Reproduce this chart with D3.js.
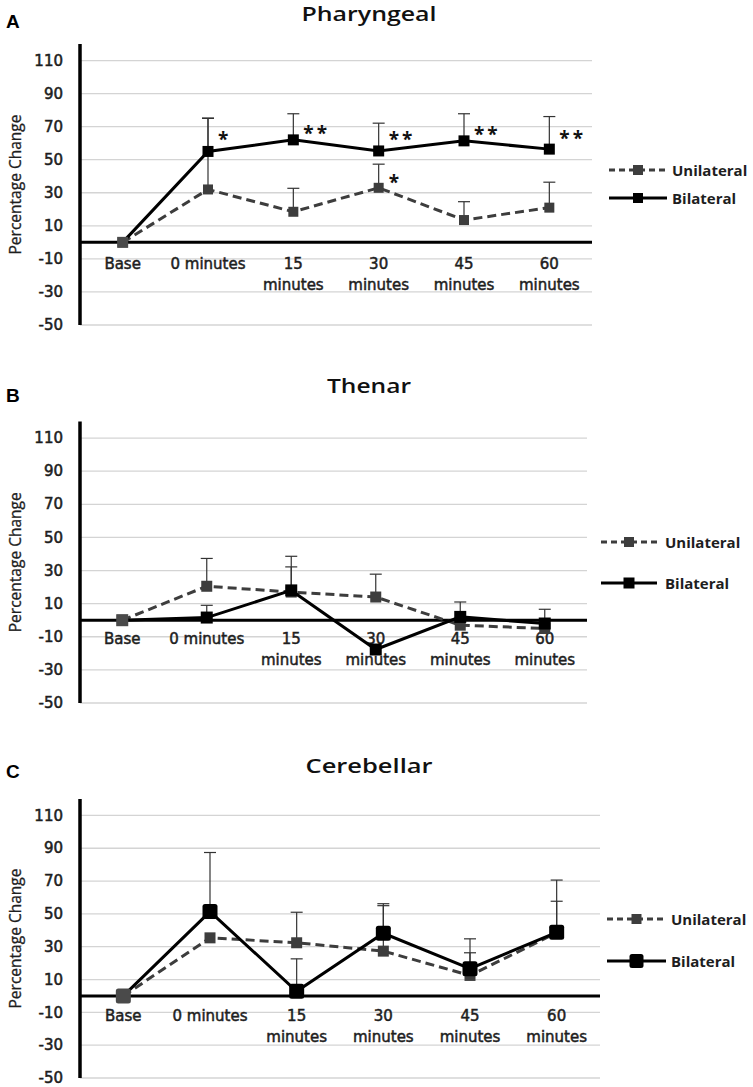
<!DOCTYPE html>
<html>
<head>
<meta charset="utf-8">
<script src="https://cdn.jsdelivr.net/npm/d3@7"></script>
<style>
  html, body { margin: 0; padding: 0; background: #fff; }
  svg { display: block; }
</style>
</head>
<body>
<svg id="chart" width="753" height="1087"></svg>
<script>
// ---------------- DATA ----------------
const categories = ["Base", "0 minutes", "15 minutes", "30 minutes", "45 minutes", "60 minutes"];
const xLabelLines = [["Base"], ["0 minutes"], ["15", "minutes"], ["30", "minutes"], ["45", "minutes"], ["60", "minutes"]];
const yTicks = [-50, -30, -10, 10, 30, 50, 70, 90, 110];
const yDomain = [-50, 120];
const seriesNames = ["Unilateral", "Bilateral"];
const panelTitles = ["Pharyngeal", "Thenar", "Cerebellar"];
const panelLetters = ["A", "B", "C"];
const yAxisTitle = "Percentage Change";

// Pharyngeal
const pharyngealUnilateral    = [0, 32, 18.5, 33, 13.5, 21];
const pharyngealUnilateralErr = [0, 43, 14.2, 14.3, 11.1, 15.4];
const pharyngealBilateral     = [0, 55, 62, 55.3, 61.4, 56.4];
const pharyngealBilateralErr  = [0, 20.2, 15.8, 16.8, 16.4, 19.7];
const pharyngealStars = [
  { cat: 1, text: "*",  value: 64.4 },
  { cat: 2, text: "**", value: 68 },
  { cat: 3, text: "**", value: 64.4 },
  { cat: 3, text: "*",  value: 38.2 },
  { cat: 4, text: "**", value: 67.6 },
  { cat: 5, text: "**", value: 65 }
];

// Thenar
const thenarUnilateral    = [0, 20.5, 17, 14, -3, -5];
const thenarUnilateralErr = [0, 16.8, 21.6, 13.8, 0, 11.6];
const thenarBilateral     = [0, 1.6, 18, -17.7, 2, -2];
const thenarBilateralErr  = [0, 7.4, 14.2, 0, 9, 0];
const thenarStars = [];

// Cerebellar
const cerebellarUnilateral    = [0, 35.4, 32.4, 27.3, 12.5, 38.5];
const cerebellarUnilateralErr = [0, 0, 18.6, 27.7, 13.8, 19.2];
const cerebellarBilateral     = [0, 51.4, 2.8, 38.2, 16.6, 38.8];
const cerebellarBilateralErr  = [0, 36, 19.8, 18, 18.2, 31.8];
const cerebellarStars = [];

// ---------------- LAYOUT ----------------
const panels = [
  { title: panelTitles[0], letter: panelLetters[0], uni: pharyngealUnilateral, uniErr: pharyngealUnilateralErr,
    bi: pharyngealBilateral, biErr: pharyngealBilateralErr, stars: pharyngealStars,
    yTop: 44, yBot: 325, right: 592, titleY: 21, titleW: 135, letterY: 28, legendY: [170, 198],
    legendX: [609, 667, 672],
    uniSize: 10, biSize: 11, biRx: 0, labelOff: 27 },
  { title: panelTitles[1], letter: panelLetters[1], uni: thenarUnilateral, uniErr: thenarUnilateralErr,
    bi: thenarBilateral, biErr: thenarBilateralErr, stars: thenarStars,
    yTop: 421.5, yBot: 703, right: 587, titleY: 393, titleW: 84, letterY: 402, legendY: [542, 583],
    legendX: [601, 657, 665],
    uniSize: 11, biSize: 12, biRx: 0, labelOff: 24 },
  { title: panelTitles[2], letter: panelLetters[2], uni: cerebellarUnilateral, uniErr: cerebellarUnilateralErr,
    bi: cerebellarBilateral, biErr: cerebellarBilateralErr, stars: cerebellarStars,
    yTop: 799, yBot: 1078, right: 600, titleY: 773, titleW: 127, letterY: 778, legendY: [919, 961],
    legendX: [607, 666, 671],
    uniSize: 11, biSize: 15, biRx: 2.5, labelOff: 25.5 }
];

const axisX = 80;
const uniColor = "#3d3d3d";
const biColor = "#000000";
const textColor = "#1e1e1e";
const svg = d3.select("#chart");

panels.forEach(p => {
  const g = svg.append("g");
  const x = d3.scalePoint().domain(categories).range([axisX, p.right]).padding(0.5);
  const y = d3.scaleLinear().domain(yDomain).range([p.yBot, p.yTop]);

  // gridlines
  g.append("g").selectAll("line").data(yTicks).join("line")
    .attr("x1", axisX).attr("x2", p.right)
    .attr("y1", d => y(d)).attr("y2", d => y(d))
    .attr("stroke", "#d4d4d4").attr("stroke-width", 1.3);

  // y tick labels
  g.append("g").selectAll("text").data(yTicks).join("text")
    .attr("x", 63).attr("y", d => y(d) + 5.2)
    .attr("text-anchor", "end")
    .attr("font-family", "DejaVu Sans").attr("font-size", 15)
    .attr("fill", textColor).attr("stroke", textColor).attr("stroke-width", 0.55)
    .text(d => d);

  // x category labels
  const xl = g.append("g").selectAll("text").data(categories).join("text")
    .attr("text-anchor", "middle")
    .attr("font-family", "DejaVu Sans").attr("font-size", 15)
    .attr("fill", textColor).attr("stroke", textColor).attr("stroke-width", 0.5);
  xl.each(function(d, i) {
    const t = d3.select(this);
    xLabelLines[i].forEach((line, j) => {
      t.append("tspan").attr("x", x(d)).attr("y", y(0) + p.labelOff + j * 20.5).text(line);
    });
  });

  // zero line
  g.append("line").attr("x1", axisX).attr("x2", p.right)
    .attr("y1", y(0)).attr("y2", y(0))
    .attr("stroke", "#000").attr("stroke-width", 3);

  // y axis line
  g.append("line").attr("x1", axisX).attr("x2", axisX)
    .attr("y1", p.yTop).attr("y2", p.yBot)
    .attr("stroke", "#000").attr("stroke-width", 3.5);

  // y axis title
  g.append("text")
    .attr("transform", `translate(15,${y((yDomain[0] + yDomain[1]) / 2)}) rotate(-90)`)
    .attr("text-anchor", "middle").attr("dominant-baseline", "central")
    .attr("font-family", "Open Sans").attr("font-size", 15.5)
    .attr("textLength", 140).attr("lengthAdjust", "spacingAndGlyphs")
    .attr("fill", textColor).attr("stroke", textColor).attr("stroke-width", 0.3)
    .text(yAxisTitle);

  // panel title
  g.append("text").attr("x", 369).attr("y", p.titleY)
    .attr("text-anchor", "middle")
    .attr("font-family", "Open Sans").attr("font-weight", 600).attr("font-size", 20)
    .attr("textLength", p.titleW).attr("lengthAdjust", "spacingAndGlyphs")
    .attr("fill", "#111")
    .text(p.title);

  // panel letter
  g.append("text").attr("x", 6).attr("y", p.letterY)
    .attr("font-family", "Liberation Sans").attr("font-weight", 700).attr("font-size", 19)
    .attr("fill", "#000")
    .text(p.letter);

  const series = [
    { name: seriesNames[0], vals: p.uni, errs: p.uniErr, color: uniColor, dash: "9,5", size: p.uniSize, rx: 0 },
    { name: seriesNames[1], vals: p.bi, errs: p.biErr, color: biColor, dash: null, size: p.biSize, rx: p.biRx }
  ];

  // error bars (plus direction)
  series.forEach(s => {
    const eb = g.append("g");
    s.vals.forEach((v, i) => {
      const e = s.errs[i];
      if (!e) return;
      const cx = x(categories[i]);
      eb.append("line").attr("x1", cx).attr("x2", cx).attr("y1", y(v)).attr("y2", y(v + e))
        .attr("stroke", "#333").attr("stroke-width", 1.2);
      eb.append("line").attr("x1", cx - 6).attr("x2", cx + 6).attr("y1", y(v + e)).attr("y2", y(v + e))
        .attr("stroke", "#333").attr("stroke-width", 1.2);
    });
  });

  // lines + markers
  const lineGen = d3.line().x((d, i) => x(categories[i])).y(d => y(d));
  series.forEach(s => {
    g.append("path").datum(s.vals).attr("d", lineGen)
      .attr("fill", "none").attr("stroke", s.color).attr("stroke-width", 3)
      .attr("stroke-dasharray", s.dash);
    g.append("g").selectAll("rect").data(s.vals).join("rect")
      .attr("x", (d, i) => x(categories[i]) - s.size / 2)
      .attr("y", d => y(d) - s.size / 2)
      .attr("width", s.size).attr("height", s.size)
      .attr("rx", s.rx)
      .attr("fill", (d, i) => i === 0 ? "#4a4a4a" : s.color);
  });

  // significance stars
  g.append("g").selectAll("text").data(p.stars).join("text")
    .attr("x", d => x(categories[d.cat]) + 10)
    .attr("y", d => y(d.value) + 10)
    .attr("font-family", "Open Sans").attr("font-weight", 700).attr("font-size", 19)
    .attr("letter-spacing", 3)
    .attr("fill", "#111")
    .text(d => d.text);

  // legend
  series.forEach((s, k) => {
    const ly = p.legendY[k];
    const [lx0, lx1, tx] = p.legendX;
    g.append("line").attr("x1", lx0).attr("x2", lx1).attr("y1", ly).attr("y2", ly)
      .attr("stroke", s.color).attr("stroke-width", 3).attr("stroke-dasharray", s.dash ? "6,4" : null);
    const ms = Math.max(10, s.size - 1);
    g.append("rect").attr("x", (lx0 + lx1) / 2 - ms / 2).attr("y", ly - ms / 2)
      .attr("width", ms).attr("height", ms).attr("rx", s.rx).attr("fill", s.color);
    g.append("text").attr("x", tx).attr("y", ly + 5.5)
      .attr("font-family", "Open Sans").attr("font-weight", 700).attr("font-size", 15)
      .attr("fill", textColor)
      .text(s.name);
  });
});
</script>
</body>
</html>
